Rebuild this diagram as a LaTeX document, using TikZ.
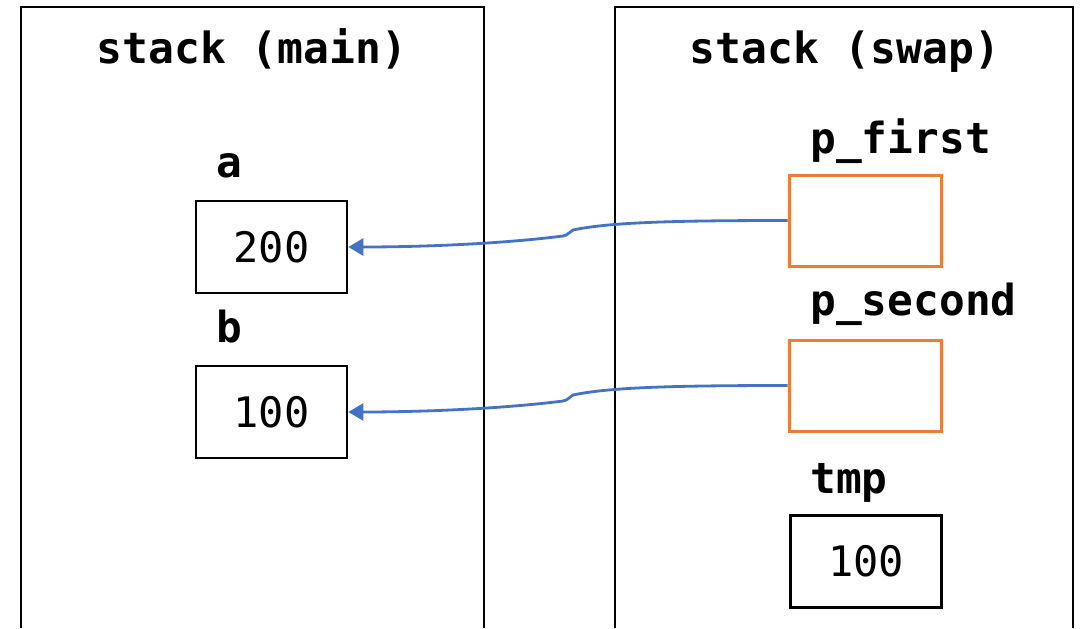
\documentclass[tikz,border=0pt]{standalone}
\usepackage{fontspec}
\setmonofont{DejaVu Sans Mono}
\usetikzlibrary{arrows.meta}
\definecolor{arrblue}{HTML}{4472C4}
\definecolor{boxorange}{HTML}{ED7D31}
\tikzset{
  frame/.style={draw=black, line width=1.3pt},
  valbox/.style={draw=black, line width=1.3pt, minimum width=75.5pt, minimum height=46pt, inner sep=0pt,
    font=\ttfamily\fontsize{21}{25}\selectfont},
  ptrbox/.style={draw=boxorange, line width=1.5pt, minimum width=76pt, minimum height=45.5pt, inner sep=0pt},
  vlabel/.style={anchor=base west, inner sep=0pt, font=\ttfamily\bfseries\fontsize{21.4}{25}\selectfont},
  title/.style={anchor=base, inner sep=0pt, font=\ttfamily\bfseries\fontsize{21.5}{25}\selectfont},
  ptr/.style={draw=arrblue, line width=1.4pt, -{Triangle[length=7.5pt,width=8.5pt]}}
}
\begin{document}
\begin{tikzpicture}[x=0.5pt,y=-0.5pt]
\useasboundingbox (0,0) rectangle (1082,628);
% frames
\draw[frame] (21,628) -- (21,7) -- (484,7) -- (484,628);
\draw[frame] (615,628) -- (615,7) -- (1073,7) -- (1073,628);
\node[title] (tmain) at (252,63) {stack (main)};
\node[title] (tswap) at (845,63) {stack (swap)};
% main stack
\node[vlabel] (la) at (216,177) {a};
\node[valbox] (a) at (271.5,247) {200};
\node[vlabel] (lb) at (216,342) {b};
\node[valbox] (b) at (271.5,412) {100};
% swap stack
\node[vlabel] (lp1) at (810,153) {p\_first};
\node[ptrbox] (p1) at (865,220.5) {};
\node[vlabel] (lp2) at (810,315) {p\_second};
\node[ptrbox] (p2) at (865,385.5) {};
\node[vlabel] (lt) at (810,493) {tmp};
\node[valbox] (t) at (866,561.5) {100};
% pointers
\draw[ptr] (p1.west) .. controls (680,220.5) and (610,222) .. (573,230)
  .. controls (569,231.5) and (569,235) .. (563,236)
  .. controls (500,244) and (420,247) .. (a.east);
\draw[ptr] (p2.west) .. controls (680,385.5) and (610,387) .. (573,395)
  .. controls (569,396.5) and (569,400) .. (563,401)
  .. controls (500,409) and (420,412) .. (b.east);
\end{tikzpicture}
\end{document}
